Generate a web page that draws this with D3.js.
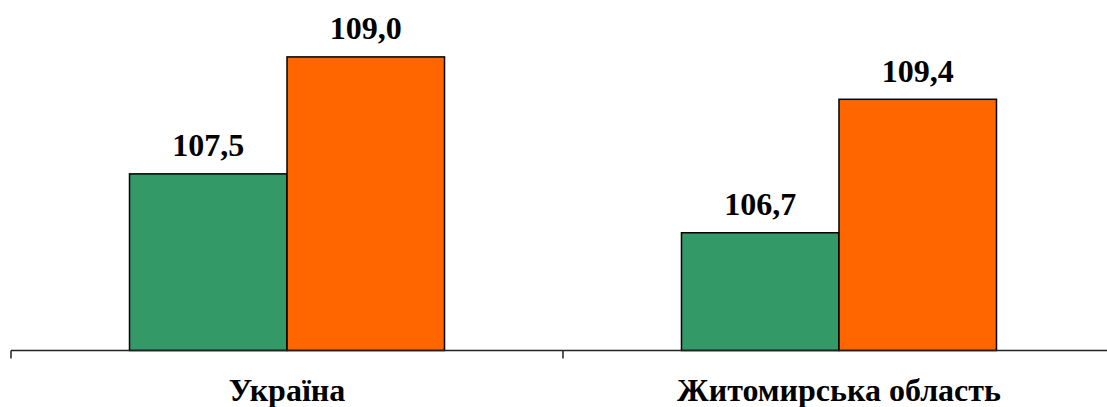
<!DOCTYPE html>
<html>
<head>
<meta charset="utf-8">
<script src="https://cdn.jsdelivr.net/npm/d3@7"></script>
<style>
  html, body { margin: 0; padding: 0; background: #ffffff; }
  svg { display: block; }
</style>
</head>
<body>
<svg id="chart" width="1107" height="407"></svg>
<script>
const categories = ["Україна", "Житомирська область"];
const series = ["Ряд 1", "Ряд 2"];
const seriesGreen = [107.5, 106.75];
const seriesOrange = [108.99, 108.45];
const labelsGreen = ["107,5", "106,7"];
const labelsOrange = ["109,0", "109,4"];
const colors = ["#339966", "#FF6600"];

const FONT = '"Liberation Serif"';
const svg = d3.select("#chart");
const baseY = 350.5;

const x0 = d3.scaleBand()
  .domain(categories)
  .range([11, 1115])
  .paddingInner(0.4293)
  .paddingOuter(0.2147);

const x1 = d3.scaleBand()
  .domain(series)
  .range([0, x0.bandwidth()]);

const y = d3.scaleLinear()
  .domain([105.25, 109.5])
  .range([baseY, baseY - 4.25 * 78.5]);

const rows = categories.map((c, i) => ({
  cat: c,
  vals: [
    { s: series[0], v: seriesGreen[i], label: labelsGreen[i], color: colors[0] },
    { s: series[1], v: seriesOrange[i], label: labelsOrange[i], color: colors[1] }
  ]
}));

const g = svg.selectAll("g.group").data(rows).join("g")
  .attr("class", "group")
  .attr("transform", d => `translate(${x0(d.cat)},0)`);

g.selectAll("rect").data(d => d.vals).join("rect")
  .attr("x", d => x1(d.s))
  .attr("y", d => y(d.v))
  .attr("width", x1.bandwidth())
  .attr("height", d => baseY - y(d.v))
  .attr("fill", d => d.color)
  .attr("stroke", "#000")
  .attr("stroke-width", 1.5);

g.selectAll("text.val").data(d => d.vals).join("text")
  .attr("class", "val")
  .attr("x", d => x1(d.s) + x1.bandwidth() / 2)
  .attr("y", d => y(d.v) - 17.5)
  .attr("text-anchor", "middle")
  .style("font-family", FONT)
  .style("font-weight", "bold")
  .style("font-size", "32px")
  .attr("fill", "#000")
  .text(d => d.label);

// axis
const axis = d3.axisBottom(x0).tickSize(0).tickPadding(0).tickFormat("");
const ax = svg.append("g").attr("transform", `translate(0,${baseY})`).call(axis);
ax.select(".domain").remove();
ax.append("line").attr("x1", 11).attr("x2", 1107).attr("y1", 0).attr("y2", 0)
  .attr("stroke", "#222").attr("stroke-width", 1.5);
const boundaries = [x0.range()[0], x0.range()[0] + x0.step()];
ax.selectAll("line.tk").data(boundaries).join("line")
  .attr("class", "tk")
  .attr("x1", d => d).attr("x2", d => d)
  .attr("y1", 0).attr("y2", 8)
  .attr("stroke", "#222").attr("stroke-width", 1.5);

svg.selectAll("text.cat").data(categories).join("text")
  .attr("class", "cat")
  .attr("x", d => x0(d) + x0.bandwidth() / 2)
  .attr("y", 400.5)
  .attr("text-anchor", "middle")
  .style("font-family", FONT)
  .style("font-weight", "bold")
  .style("font-size", "32px")
  .attr("fill", "#000")
  .text(d => d);
</script>
</body>
</html>
